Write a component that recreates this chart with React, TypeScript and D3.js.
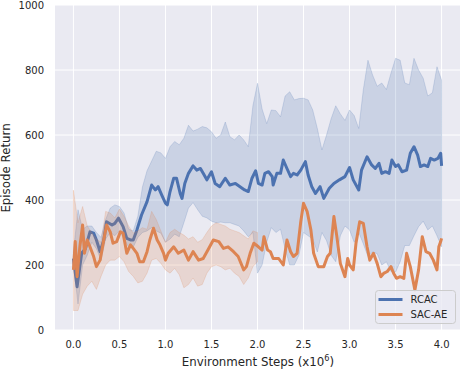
import React from "react";
import * as d3 from "d3";

// RCAC mean return (steps in millions)
const rcacSteps = [
  0.0, 0.04, 0.09, 0.13, 0.18, 0.22, 0.25, 0.29, 0.33, 0.36, 0.42, 0.45, 0.49, 0.54, 0.58, 0.62,
  0.65, 0.69, 0.74, 0.8, 0.85, 0.89, 0.92, 0.96, 1.0, 1.02, 1.05, 1.09, 1.12, 1.16, 1.18, 1.21,
  1.25, 1.3, 1.34, 1.38, 1.41, 1.45, 1.5, 1.54, 1.59, 1.65, 1.7, 1.76, 1.81, 1.86, 1.9, 1.94,
  1.98, 2.01, 2.05, 2.08, 2.12, 2.16, 2.17, 2.21, 2.25, 2.28, 2.32, 2.36, 2.39, 2.43, 2.47, 2.52,
  2.55, 2.59, 2.63, 2.68, 2.72, 2.78, 2.83, 2.89, 2.95, 3.0, 3.04, 3.1, 3.13, 3.19, 3.24, 3.28,
  3.32, 3.35, 3.39, 3.43, 3.46, 3.5, 3.53, 3.57, 3.62, 3.66, 3.7, 3.74, 3.77, 3.81, 3.85, 3.88,
  3.92, 3.96, 3.99, 4.0,
];
const rcacMean = [
  220, 133, 237, 250, 302, 298, 277, 241, 277, 333, 323, 328, 344, 318, 282, 277,
  277, 308, 354, 395, 446, 431, 441, 415, 390, 385, 426, 467, 467, 420, 405, 451,
  482, 505, 492, 497, 482, 462, 487, 451, 441, 467, 446, 451, 441, 431, 426, 467,
  490, 451, 446, 482, 487, 472, 446, 482, 482, 523, 497, 472, 482, 477, 492, 518,
  477, 441, 420, 441, 405, 436, 451, 462, 472, 500, 462, 431, 492, 533, 508, 497,
  513, 482, 487, 482, 523, 503, 508, 487, 492, 544, 564, 538, 503, 508, 503, 528,
  523, 528, 544, 505,
];

// SAC-AE mean return
const sacSteps = [
  0.0, 0.02, 0.04, 0.07, 0.1, 0.12, 0.15, 0.18, 0.22, 0.25, 0.29, 0.33, 0.36, 0.4, 0.43, 0.47,
  0.51, 0.54, 0.58, 0.62, 0.65, 0.69, 0.72, 0.76, 0.8, 0.83, 0.87, 0.91, 0.94, 0.98, 1.0, 1.03,
  1.09, 1.14, 1.2, 1.25, 1.3, 1.36, 1.41, 1.47, 1.52, 1.58, 1.63, 1.68, 1.74, 1.79, 1.85, 1.88,
  1.92, 1.96, 2.01, 2.05, 2.07, 2.11, 2.14, 2.17, 2.23, 2.28, 2.32, 2.36, 2.39, 2.43, 2.47, 2.5,
  2.54, 2.58, 2.61, 2.66, 2.72, 2.76, 2.79, 2.83, 2.86, 2.9, 2.95, 2.98, 3.0, 3.04, 3.07, 3.11,
  3.15, 3.19, 3.22, 3.26, 3.3, 3.34, 3.37, 3.41, 3.45, 3.48, 3.51, 3.55, 3.59, 3.62, 3.66, 3.71,
  3.75, 3.79, 3.83, 3.87, 3.91, 3.95, 3.97, 3.99, 4.0,
];
const sacMean = [
  185, 272, 164, 256, 323, 236, 277, 256, 226, 195, 215, 277, 323, 302, 267, 272,
  302, 298, 236, 262, 251, 236, 210, 210, 241, 277, 313, 277, 262, 236, 215, 236,
  256, 236, 246, 215, 241, 215, 220, 251, 277, 272, 251, 256, 241, 226, 185, 195,
  236, 267, 256, 246, 287, 246, 241, 220, 220, 200, 277, 241, 226, 236, 333, 390,
  364, 308, 236, 195, 195, 226, 236, 349, 292, 205, 164, 220, 200, 185, 267, 333,
  328, 256, 215, 236, 205, 164, 174, 180, 195, 174, 159, 164, 159, 236, 195, 123,
  185, 287, 241, 236, 215, 185, 256, 272, 282,
];

// RCAC confidence band, every 0.05
const rcacBandSteps = d3.range(81).map((i) => +(i * 0.05).toFixed(2));
const rcacUpper = [
  240, 370, 310, 320, 320, 300, 285, 340, 375, 385, 380, 360, 310, 305, 350, 440,
  490, 520, 550, 545, 528, 564, 580, 570, 590, 630, 612, 618, 626, 622, 610, 590,
  600, 640, 595, 585, 600, 585, 564, 690, 759, 680, 635, 677, 675, 656, 720, 733,
  708, 712, 713, 708, 677, 620, 554, 600, 650, 690, 665, 645, 677, 660, 620, 740,
  830, 785, 750, 760, 740, 790, 836, 830, 760, 755, 836, 800, 775, 720, 730, 810,
  769,
];
const rcacLower = [
  205, 80, 200, 230, 270, 250, 215, 280, 300, 290, 305, 280, 255, 255, 285, 300,
  305, 315, 305, 298, 270, 280, 295, 287, 330, 375, 392, 370, 350, 345, 335, 330,
  332, 330, 330, 325, 320, 305, 287, 300, 175, 200, 270, 315, 300, 310, 250, 200,
  200, 230, 300, 290, 280, 240, 300, 275, 230, 210, 290, 320, 308, 270, 300, 265,
  226, 240, 235, 200, 210, 180, 178, 210, 260, 260, 290, 318, 335, 308, 320, 290,
  256,
];

// SAC-AE confidence band (only up to 2.0, a single run after that)
const sacBandSteps = d3.range(41).map((i) => +(i * 0.05).toFixed(2));
const sacUpper = [
  430, 330, 380, 320, 300, 280, 270, 365, 360, 345, 372, 350, 320, 298, 305, 315,
  310, 365, 340, 305, 270, 300, 310, 300, 292, 280, 287, 270, 278, 300, 320, 330,
  325, 320, 310, 305, 300, 290, 280, 305, 300,
];
const sacLower = [
  60, 60, 110, 135, 150, 125, 165, 200, 215, 215, 226, 210, 180, 165, 145, 150,
  175, 215, 220, 205, 185, 175, 190, 170, 130, 140, 160, 135, 140, 175, 195, 200,
  195, 185, 190, 175, 165, 140, 160, 195, 210,
];

const xTicks = [0, 0.5, 1, 1.5, 2, 2.5, 3, 3.5, 4];
const yTicks = [0, 200, 400, 600, 800, 1000];

const seriesNames = ["RCAC", "SAC-AE"];
const colors = ["#4C72B0", "#DD8452"];

const W = 460;
const H = 373;
const left = 55;
const right = 460;
const top = 5;
const bottom = 330;
const textColor = "#262626";
const font = "'DejaVu Sans', sans-serif";

export default function App() {
  const x = d3.scaleLinear().domain([-0.2, 4.2]).range([left, right]);
  const y = d3.scaleLinear().domain([0, 1000]).range([bottom, top]);

  const line = d3
    .line<[number, number]>()
    .x((d) => x(d[0]))
    .y((d) => y(d[1]));
  const area = d3
    .area<[number, number, number]>()
    .x((d) => x(d[0]))
    .y0((d) => y(d[2]))
    .y1((d) => y(d[1]));

  const rcacLine = rcacSteps.map((s, i) => [s, rcacMean[i]] as [number, number]);
  const sacLine = sacSteps.map((s, i) => [s, sacMean[i]] as [number, number]);
  const rcacBand = rcacBandSteps.map(
    (s, i) => [s, rcacUpper[i], rcacLower[i]] as [number, number, number]
  );
  const sacBand = sacBandSteps.map(
    (s, i) => [s, sacUpper[i], sacLower[i]] as [number, number, number]
  );

  const legendX = 375.5;
  const legendY = 290.5;

  return (
    <svg
      width={W}
      height={H}
      style={{ position: "absolute", left: 0, top: 0, background: "#fff" }}
      fontFamily={font}
    >
      <rect x={left} y={top} width={right - left} height={bottom - top} fill="#EAEAF2" />
      {xTicks.map((t) => (
        <line key={"gx" + t} x1={x(t)} x2={x(t)} y1={top} y2={bottom} stroke="#fff" strokeWidth={1} />
      ))}
      {yTicks.map((t) => (
        <line key={"gy" + t} x1={left} x2={right} y1={y(t)} y2={y(t)} stroke="#fff" strokeWidth={1} />
      ))}

      <path d={area(rcacBand) || ""} fill={colors[0]} fillOpacity={0.2} stroke={colors[0]} strokeOpacity={0.2} strokeWidth={1} />
      <path d={line(rcacLine) || ""} fill="none" stroke={colors[0]} strokeWidth={3} strokeLinejoin="round" />
      <path d={area(sacBand) || ""} fill={colors[1]} fillOpacity={0.2} stroke={colors[1]} strokeOpacity={0.2} strokeWidth={1} />
      <path d={line(sacLine) || ""} fill="none" stroke={colors[1]} strokeWidth={3} strokeLinejoin="round" />

      {xTicks.map((t) => (
        <text key={"tx" + t} x={x(t)} y={348} textAnchor="middle" fontSize={10} fill={textColor}>
          {t.toFixed(1)}
        </text>
      ))}
      {yTicks.map((t) => (
        <text key={"ty" + t} x={44} y={y(t) + 3.6} textAnchor="end" fontSize={10} fill={textColor}>
          {t}
        </text>
      ))}
      <text x={(left + right) / 2 + 0.5} y={365.5} textAnchor="middle" fontSize={11.8} fill={textColor}>
        Environment Steps (x10
        <tspan dy={-4.5} fontSize={8.2}>6</tspan>
        <tspan dy={4.5}>)</tspan>
      </text>
      <text
        transform={`translate(10,${(top + bottom) / 2 + 0.5}) rotate(-90)`}
        textAnchor="middle"
        fontSize={11.8}
        fill={textColor}
      >
        Episode Return
      </text>

      <g transform={`translate(${legendX},${legendY})`}>
        <rect width={80} height={33} rx={3} fill="#EAEAF2" fillOpacity={0.8} stroke="#CCCCCC" strokeWidth={1} />
        {seriesNames.map((name, i) => (
          <g key={name} transform={`translate(0,${9 + i * 15})`}>
            <line x1={3} x2={27} y1={0} y2={0} stroke={colors[i]} strokeWidth={3} />
            <text x={35} y={3.6} fontSize={10} fill={textColor}>
              {name}
            </text>
          </g>
        ))}
      </g>
    </svg>
  );
}
